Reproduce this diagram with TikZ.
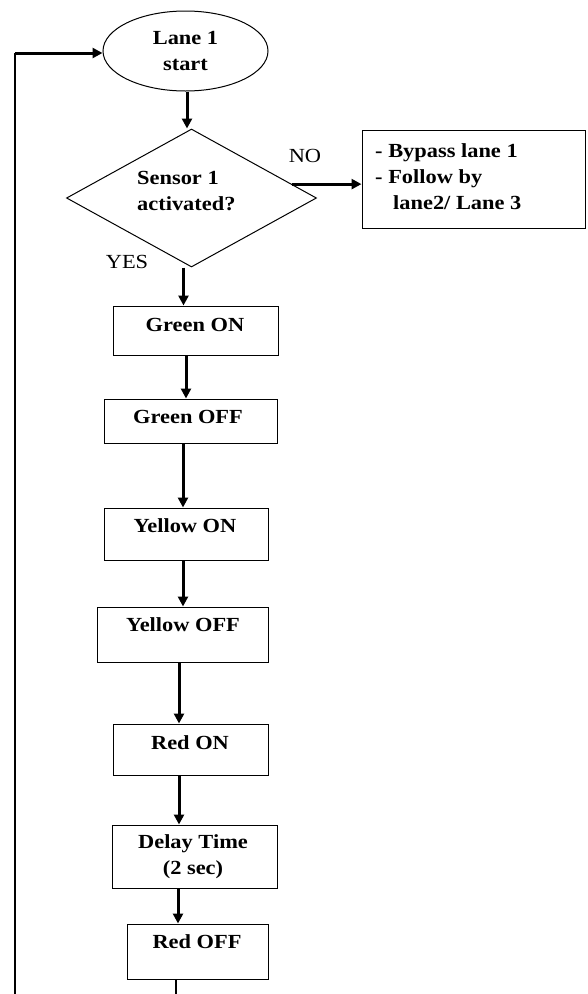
\documentclass[tikz,border=0pt]{standalone}
\usepackage{fontspec}
\setmainfont[FakeStretch=1.12]{Liberation Serif}
\usetikzlibrary{arrows.meta,shapes.geometric,calc}
\tikzset{
  box/.style={draw=black, line width=1pt, rectangle, inner sep=0pt},
  txt/.style={inner sep=0pt, font=\bfseries\fontsize{20}{26}\selectfont, text height=13.5pt, text depth=0pt},
  mtxt/.style={inner sep=0pt, font=\bfseries\fontsize{20}{26}\selectfont},
  lbl/.style={inner sep=0pt, font=\fontsize{20}{24}\selectfont},
  arr/.style={line width=3pt, -{Triangle[length=10pt,width=10pt]}},
  thinline/.style={line width=1.4pt}
}
\begin{document}
\begin{tikzpicture}[x=1pt,y=-1pt]
\useasboundingbox (0,0) rectangle (587,994);
% start
\node[draw=black, line width=1pt, ellipse, minimum width=165, minimum height=80, inner sep=0pt, mtxt, align=center] (start) at (185.5,51) {Lane 1\\start};
% decision
\node[draw=black, line width=1pt, diamond, minimum width=250, minimum height=138, inner sep=0pt] (dia) at (191.5,198) {};
\node[mtxt, align=left, anchor=west] (diat) at (137,191.5) {Sensor 1\\activated?};
% bypass
\node[box, minimum width=223.5, minimum height=98] (byp) at (473.75,179) {};
\node[mtxt, align=left, anchor=west] (bypt) at (375,177) {- Bypass lane 1\\- Follow by\\\hspace*{18pt}lane2/ Lane 3};
\node[lbl] (no) at (305,156) {NO};
\node[lbl] (yes) at (127,262) {YES};
% process boxes
\node[box, minimum width=165, minimum height=49] (gon) at (195.5,330.5) {};
\node[txt] (gont) at (195,325) {Green ON};
\node[box, minimum width=173, minimum height=44] (goff) at (190.5,421) {};
\node[txt] (gofft) at (188,417) {Green OFF};
\node[box, minimum width=164, minimum height=52] (yon) at (186,534) {};
\node[txt] (yont) at (185,526) {Yellow ON};
\node[box, minimum width=171, minimum height=55] (yoff) at (182.5,634.5) {};
\node[txt] (yofft) at (183,625) {Yellow OFF};
\node[box, minimum width=155, minimum height=51] (ron) at (190.5,749.5) {};
\node[txt] (ront) at (190,743) {Red ON};
\node[box, minimum width=165, minimum height=63] (delay) at (194.5,856.5) {};
\node[mtxt, align=center] (delayt) at (193,857) {Delay Time\\(2 sec)};
\node[box, minimum width=141, minimum height=55] (roff) at (197.5,951.5) {};
\node[txt] (rofft) at (197,942) {Red OFF};
% loop coordinates
\coordinate (bot) at (176,994);
\coordinate (lb) at (15,994);
\coordinate (lt) at (15,53);
\coordinate (noP) at ($(dia.north)!0.8!(dia.east)$);
% connectors
\draw[arr] ([xshift=1.5]start.south) -- ([xshift=1.5]start.south |- dia.north);
\draw[arr] (noP) -- (noP -| byp.west);
\draw[arr] ([xshift=-8]dia.south) -- ([xshift=-8]dia.south |- gon.north);
\draw[arr] ([xshift=-9.5]gon.south) -- ([xshift=-9.5]gon.south |- goff.north);
\draw[arr] ([xshift=-7.5]goff.south) -- ([xshift=-7.5]goff.south |- yon.north);
\draw[arr] ([xshift=-3]yon.south) -- ([xshift=-3]yon.south |- yoff.north);
\draw[arr] ([xshift=-3.5]yoff.south) -- ([xshift=-3.5]yoff.south |- ron.north);
\draw[arr] ([xshift=-11.5]ron.south) -- ([xshift=-11.5]ron.south |- delay.north);
\draw[arr] ([xshift=-16.5]delay.south) -- ([xshift=-16.5]delay.south |- roff.north);
\draw[thinline] (roff.south -| bot) -- (bot);
\draw[thinline] (lb) -- (lt);
\draw[arr] (lt) -- (lt -| start.west);
\end{tikzpicture}
\end{document}
